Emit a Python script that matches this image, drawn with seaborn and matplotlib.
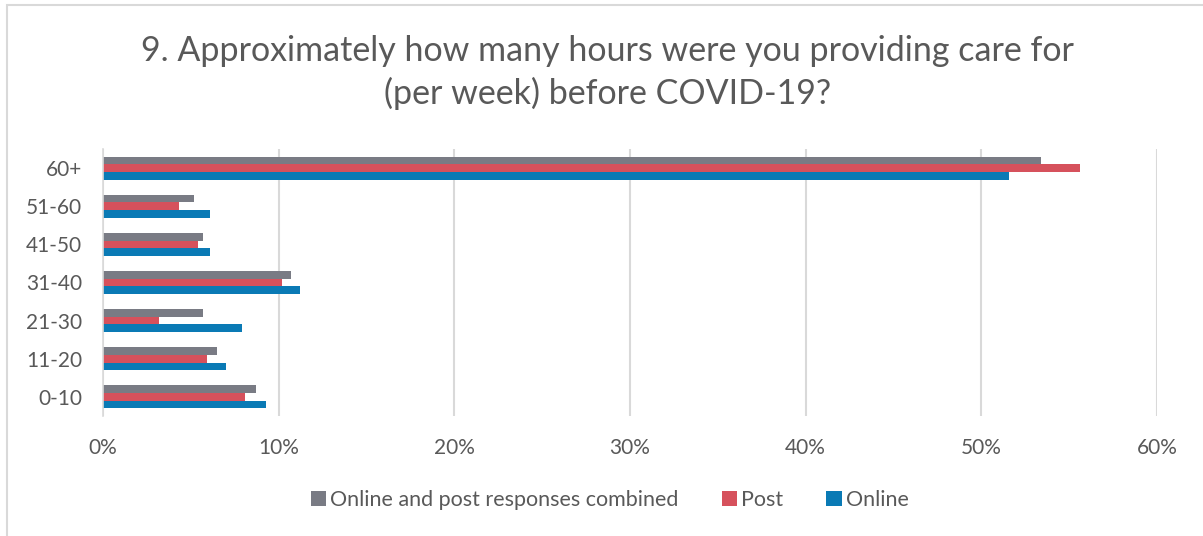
import matplotlib
matplotlib.use("Agg")
import matplotlib.pyplot as plt
from matplotlib.patches import Rectangle
from matplotlib.ticker import PercentFormatter
import pandas as pd
import seaborn as sns

categories = ['60+', '51-60', '41-50', '31-40', '21-30', '11-20', '0-10']
series = ['Online and post responses combined', 'Post', 'Online']
combined = [53.4, 5.2, 5.7, 10.7, 5.7, 6.5, 8.7]
post = [55.6, 4.3, 5.4, 10.2, 3.2, 5.9, 8.1]
online = [51.6, 6.1, 6.1, 11.2, 7.9, 7.0, 9.3]
colors = ['#797b84', '#d6515c', '#0a7ab5']

df = pd.DataFrame({
    'hours': categories * 3,
    'series': [s for s in series for _ in categories],
    'pct': combined + post + online,
})

sns.set_style('white')
plt.rcParams['font.family'] = ['Lato', 'DejaVu Sans']

fig = plt.figure(figsize=(12.03, 5.36), dpi=100)
ax = fig.add_axes([0.0856, 0.2239, 0.8762, 0.4981])

sns.barplot(data=df, x='pct', y='hours', hue='series', order=categories,
            hue_order=series, palette=colors, orient='h', width=0.6,
            saturation=1, linewidth=0, legend=True, ax=ax)

ax.set_xlim(0, 60)
ax.set_ylim(6.5, -0.5)
ax.set_xticks(range(0, 61, 10))
ax.xaxis.set_major_formatter(PercentFormatter(decimals=0))
ax.grid(axis='x', color='#d9d9d9', linewidth=1.5)
ax.set_axisbelow(True)
for side in ['top', 'right', 'bottom']:
    ax.spines[side].set_visible(False)
ax.spines['left'].set_color('#d9d9d9')
ax.spines['left'].set_linewidth(1.2)
ax.tick_params(axis='both', length=0, labelsize=15, labelcolor='#595959')
ax.tick_params(axis='x', pad=16)
ax.tick_params(axis='y', pad=15)
ax.set_xlabel('')
ax.set_ylabel('')

handles, labels = ax.get_legend_handles_labels()
ax.get_legend().remove()
fig.legend(handles, labels, loc='center', bbox_to_anchor=(0.507, 0.067), ncol=3,
           frameon=False, fontsize=15.5, handlelength=0.7, handleheight=0.7,
           handletextpad=0.2, columnspacing=2.0, labelcolor='#595959')

fig.text(0.505, 0.865, '9. Approximately how many hours were you providing care for\n(per week) before COVID-19?',
         ha='center', va='center', fontsize=24.5, color='#595959', linespacing=1.35)

fig.patches.append(Rectangle((0.006, -0.1), 1.1, 1.09, transform=fig.transFigure,
                             fill=False, edgecolor='#d9d9d9', linewidth=1.5))

fig.savefig('out.png', dpi=100)
